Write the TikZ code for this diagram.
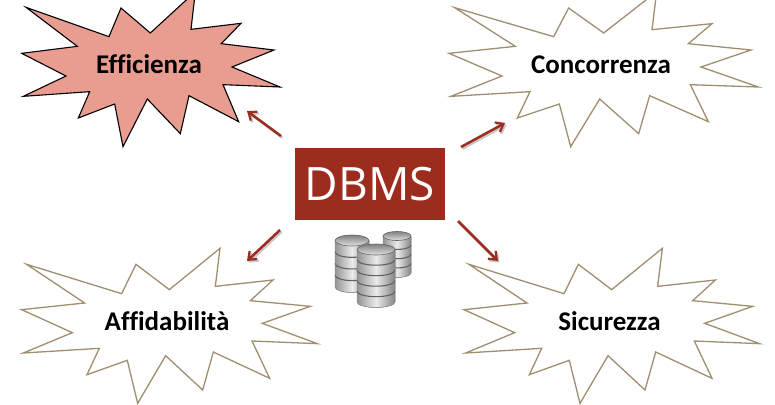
\documentclass[tikz,border=0pt]{standalone}
\usepackage{fontspec}
\setmainfont[Ligatures=NoCommon]{Carlito}
\newfontfamily\dbmsfont{Open Sans}
\usetikzlibrary{arrows.meta}
\definecolor{dbred}{HTML}{9C2D1E}
\definecolor{starpink}{HTML}{E99C90}
\definecolor{startan}{HTML}{A08E70}
\tikzset{
  x=1pt,y=-1pt,
  tanstar/.style={draw=startan,line width=1.3pt,fill=white,line join=miter},
  pinkstar/.style={draw=black,line width=1.1pt,fill=starpink,line join=miter},
  starlabel/.style={anchor=base,inner sep=0pt,font=\fontsize{27}{29}\selectfont\bfseries,text=black},
  dbmsbox/.style={fill=dbred,text=white,minimum width=150pt,minimum height=72pt,inner sep=0pt,font=\dbmsfont\fontsize{46}{50}\selectfont},
  linkarrow/.style={draw=dbred,line width=2.5pt,-{Straight Barb[length=7pt,width=11pt,line width=2.2pt]}},
  linkshadow/.style={draw=black!22,line width=2.6pt,-{Straight Barb[length=7pt,width=11pt,line width=2.4pt]}},
  zoomed/.style={x=0.33333pt,y=-0.33333pt}
}
\newcommand{\dbstack}[6]{% cx, top, rx, ry, bottom, discs
  \pgfmathsetmacro{\stepy}{(#5-#2)/#6}
  \fill[left color=black!42,right color=black!48,middle color=black!8]
    (#1-#3,#2) -- (#1-#3,#5) arc[start angle=180,end angle=0,x radius=#3,y radius=#4] -- (#1+#3,#2) -- cycle;
  \foreach \k in {1,...,#6}{
    \pgfmathsetmacro{\yy}{#2+\k*\stepy-0.3}
    \ifnum\k<#6\relax
      \draw[black!62,line width=1.1pt] (#1-#3,\yy) arc[start angle=180,end angle=0,x radius=#3,y radius=#4];
    \fi
  }
  \draw[black!45,line width=.5pt] (#1-#3,#2) -- (#1-#3,#5) arc[start angle=180,end angle=0,x radius=#3,y radius=#4] -- (#1+#3,#2);
  \shade[top color=black!50,bottom color=black!12,draw=black!60,line width=.6pt] (#1,#2) circle[x radius=#3,y radius=#4];
}
\begin{document}
\begin{tikzpicture}
\useasboundingbox (0,0) rectangle (775,404);
\clip (0,0) rectangle (775,404);
\fill[white] (0,0) rectangle (775,404);
% Efficienza star
\begin{scope}[zoomed]
\draw[pinkstar] (78,22)--(327,110)--(363,24)--(451,99)--(586,-25)--(573,88)--(723,70)--(664,131)--(822,150)--(696,201)--(840,261)--(669,254)--(716,365)--(567,287)--(541,401)--(442,297)--(369,440)--(344,312)--(235,354)--(269,275)--(70,289)--(198,228)--(65,160)--(232,139)--cycle;
\end{scope}
% Concorrenza star
\begin{scope}[zoomed,xshift=440pt]
\draw[tanstar] (44,23)--(341,110)--(386,24)--(491,99)--(650,-25)--(636,89)--(816,71)--(745,131)--(933,150)--(783,201)--(955,261)--(751,254)--(805,365)--(629,287)--(596,401)--(479,297)--(392,440)--(358,312)--(232,354)--(270,275)--(33,289)--(186,228)--(27,160)--(226,139)--cycle;
\end{scope}
% Affidabilita star
\begin{scope}[zoomed,yshift=-235pt]
\draw[tanstar] (80,88)--(365,176)--(408,88)--(508,164)--(660,40)--(646,154)--(819,135)--(751,197)--(931,214)--(787,265)--(952,326)--(756,318)--(809,430)--(640,351)--(608,465)--(497,362)--(413,505)--(382,376)--(261,419)--(298,340)--(70,354)--(217,293)--(65,224)--(254,204)--cycle;
\end{scope}
% Sicurezza star
\begin{scope}[zoomed,xshift=450pt,yshift=-235pt]
\draw[tanstar] (57,88)--(342,176)--(385,88)--(485,164)--(637,40)--(623,154)--(796,135)--(728,197)--(908,214)--(764,265)--(929,326)--(733,318)--(786,430)--(617,351)--(585,465)--(474,362)--(390,505)--(358,376)--(238,419)--(275,340)--(47,354)--(194,293)--(42,224)--(231,204)--cycle;
\end{scope}
% labels
\node[starlabel] (eff) at (149,74) {Efficienza};
\node[starlabel] (con) at (601,74) {Concorrenza};
\node[starlabel] (aff) at (167,330) {Affidabilità};
\node[starlabel] (sic) at (609.5,330) {Sicurezza};
% centre
\node[dbmsbox] (dbms) at (370,184) {DBMS};
% arrow ends
\coordinate (a1) at (281,136); \coordinate (b1) at (247,111);
\coordinate (a2) at (461,147); \coordinate (b2) at (505,123);
\coordinate (a3) at (280,230); \coordinate (b3) at (247,261);
\coordinate (a4) at (458,221); \coordinate (b4) at (498,261);
\foreach \s/\e in {a1/b1,a2/b2,a3/b3,a4/b4}{
  \draw[linkshadow,transform canvas={xshift=1.4pt,yshift=-1.6pt}] (\s) -- (\e);
}
\draw[linkarrow] (a1) -- (b1);
\draw[linkarrow] (a2) -- (b2);
\draw[linkarrow] (a3) -- (b3);
\draw[linkarrow] (a4) -- (b4);
% database cylinders
\dbstack{397}{236}{14}{4.5}{273}{4}
\dbstack{352}{240.5}{17}{5.5}{287}{4}
\dbstack{376}{249.5}{19}{5.5}{302}{5}
\end{tikzpicture}
\end{document}
